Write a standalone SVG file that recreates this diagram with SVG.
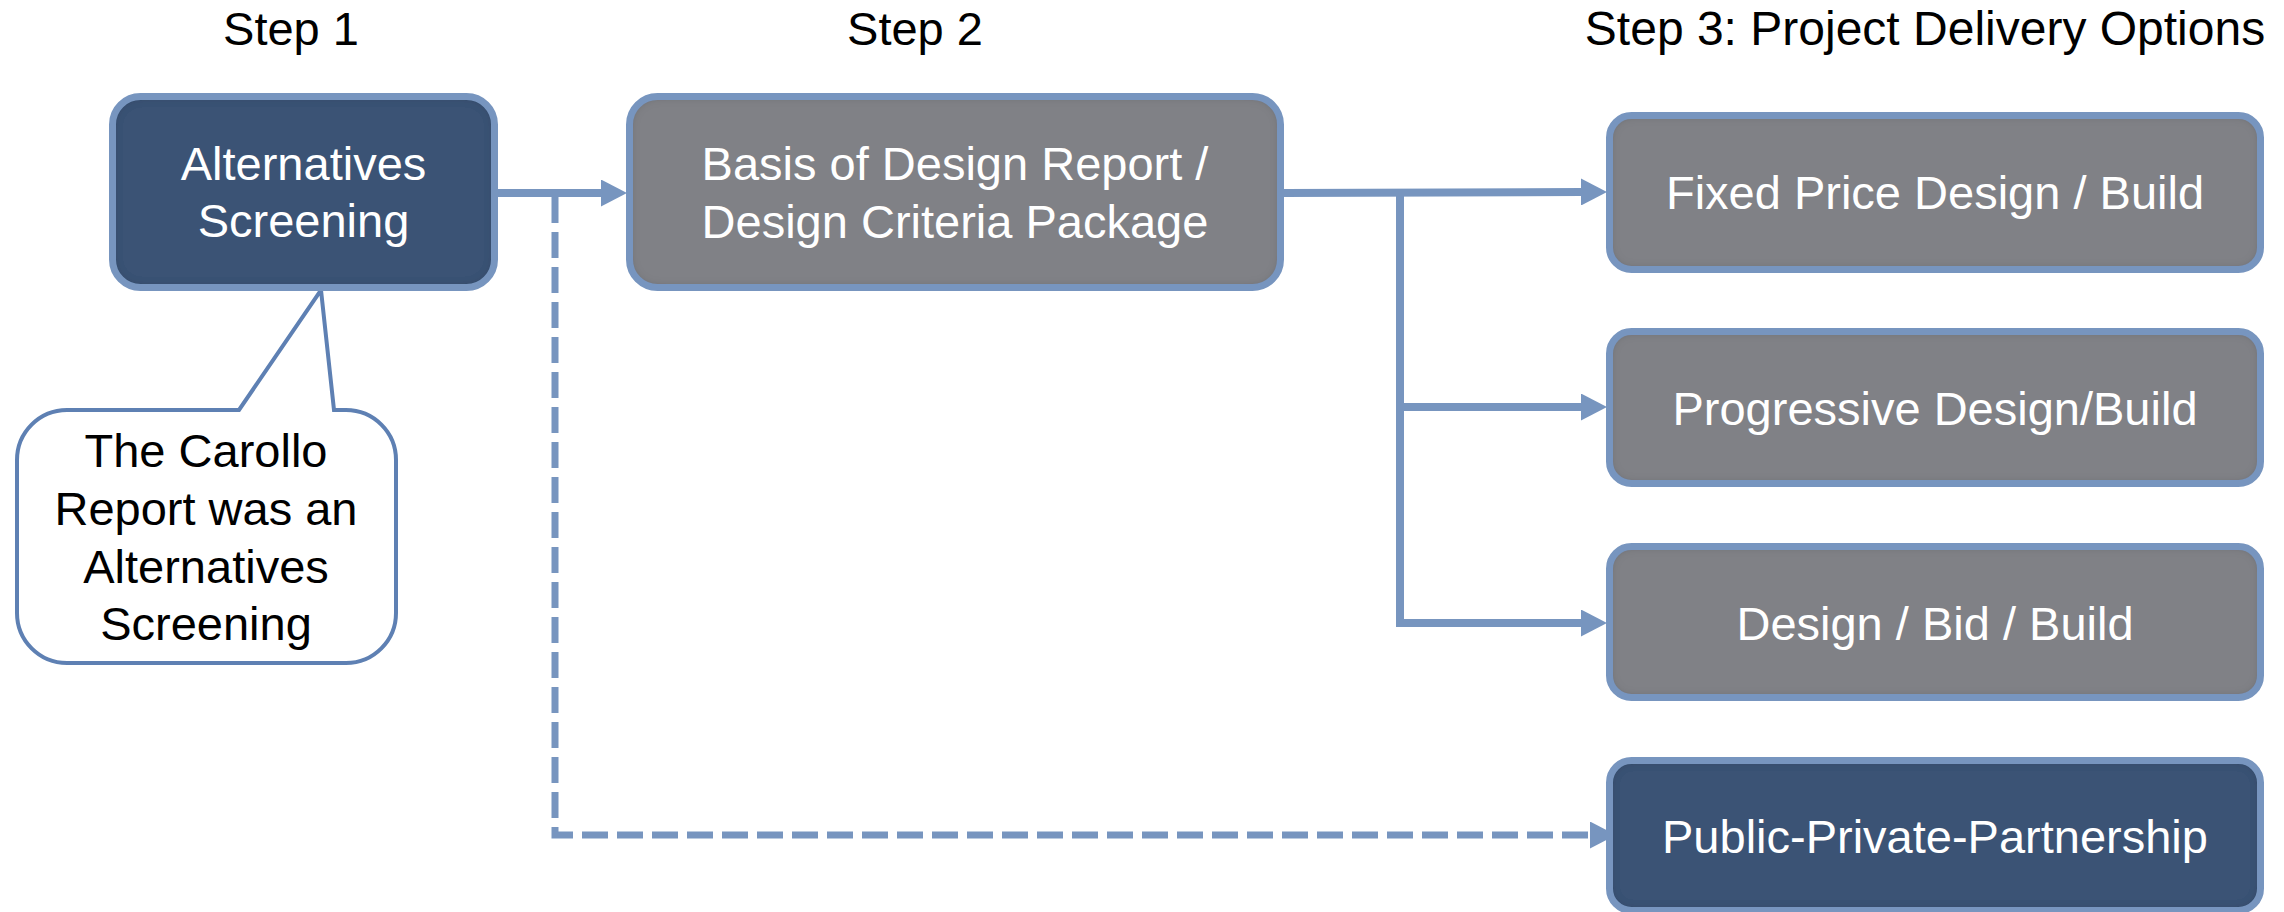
<svg xmlns="http://www.w3.org/2000/svg" width="2284" height="912" viewBox="0 0 2284 912">
<style>
text{font-family:"Liberation Sans",Arial,sans-serif;font-size:47px;text-anchor:middle}
.hdr{fill:#000}
.lbl{fill:#fff}
.navy{fill:#3A5274}
.gray{fill:#808186}
.frame{fill:none;stroke:#7795BF;stroke-width:7}
.conn{fill:none;stroke:#7795BF;stroke-width:8}
.dash{stroke-dasharray:26 9;stroke-width:7}
.callout{fill:#fff;stroke:#5E80B3;stroke-width:4;stroke-linejoin:miter}
</style>
<defs>
<filter id="inset" x="-5%" y="-5%" width="110%" height="110%">
<feFlood flood-color="#000" flood-opacity="0.45" result="f"/>
<feComposite in="f" in2="SourceAlpha" operator="out" result="o"/>
<feGaussianBlur in="o" stdDeviation="5" result="b"/>
<feComposite in="b" in2="SourceAlpha" operator="in" result="s"/>
<feMerge><feMergeNode in="SourceGraphic"/><feMergeNode in="s"/></feMerge>
</filter>
<marker id="arr" markerUnits="userSpaceOnUse" markerWidth="26" markerHeight="27" refX="0" refY="13.5" orient="auto">
<path d="M0,0 L26,13.5 L0,27 Z" fill="#7795BF"/>
</marker>
</defs>

<g id="headers">
<text class="hdr" x="291" y="45">Step 1</text>
<text class="hdr" x="915" y="45">Step 2</text>
<text class="hdr" x="1925" y="45" style="font-size:48px">Step 3: Project Delivery Options</text>
</g>

<g id="connectors">
<path class="conn" d="M498,193 H601" marker-end="url(#arr)"/>
<path class="conn dash" d="M555,197 V835 H1590" marker-end="url(#arr)"/>
<path class="conn" d="M1284,193 L1581,192" marker-end="url(#arr)"/>
<path class="conn" d="M1400,193 V627"/>
<path class="conn" d="M1396,407 H1581" marker-end="url(#arr)"/>
<path class="conn" d="M1396,623 H1581" marker-end="url(#arr)"/>
</g>

<g id="callout">
<path class="callout" d="M67,410 H239 L321,290 L334,410 H346 A50,50 0 0 1 396,460 V613 A50,50 0 0 1 346,663 H67 A50,50 0 0 1 17,613 V460 A50,50 0 0 1 67,410 Z"/>
<text class="hdr" x="206" y="467">The Carollo</text>
<text class="hdr" x="206" y="525">Report was an</text>
<text class="hdr" x="206" y="583">Alternatives</text>
<text class="hdr" x="206" y="640">Screening</text>
</g>

<g id="alternatives-screening">
<rect class="navy" x="112.5" y="96.5" width="382" height="191" rx="28" filter="url(#inset)"/>
<rect class="frame" x="112.5" y="96.5" width="382" height="191" rx="28"/>
<text class="lbl" x="303.5" y="180">Alternatives</text>
<text class="lbl" x="303.5" y="237">Screening</text>
</g>

<g id="basis-of-design">
<rect class="gray" x="629.5" y="96.5" width="651" height="191" rx="28" filter="url(#inset)"/>
<rect class="frame" x="629.5" y="96.5" width="651" height="191" rx="28"/>
<text class="lbl" x="955" y="180">Basis of Design Report /</text>
<text class="lbl" x="955" y="238">Design Criteria Package</text>
</g>

<g id="fixed-price">
<rect class="gray" x="1609.5" y="115.5" width="651" height="154" rx="22" filter="url(#inset)"/>
<rect class="frame" x="1609.5" y="115.5" width="651" height="154" rx="22"/>
<text class="lbl" x="1935" y="209">Fixed Price Design / Build</text>
</g>

<g id="progressive">
<rect class="gray" x="1609.5" y="331.5" width="651" height="152" rx="22" filter="url(#inset)"/>
<rect class="frame" x="1609.5" y="331.5" width="651" height="152" rx="22"/>
<text class="lbl" x="1935" y="425">Progressive Design/Build</text>
</g>

<g id="design-bid-build">
<rect class="gray" x="1609.5" y="546.5" width="651" height="151" rx="22" filter="url(#inset)"/>
<rect class="frame" x="1609.5" y="546.5" width="651" height="151" rx="22"/>
<text class="lbl" x="1935" y="640">Design / Bid / Build</text>
</g>

<g id="ppp">
<rect class="navy" x="1609.5" y="760.5" width="651" height="150" rx="22" filter="url(#inset)"/>
<rect class="frame" x="1609.5" y="760.5" width="651" height="150" rx="22"/>
<text class="lbl" x="1935" y="853">Public-Private-Partnership</text>
</g>
</svg>
